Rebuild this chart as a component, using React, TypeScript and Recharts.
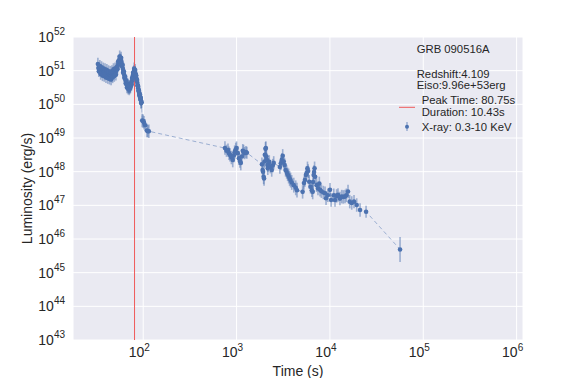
import React from "react";
import {
  ComposedChart,
  Scatter,
  ErrorBar,
  XAxis,
  YAxis,
  CartesianGrid,
  ReferenceLine,
} from "recharts";

// observation times (s)
const times = [
  32.7, 33.5, 34.3, 35.0, 35.8, 36.6, 37.4, 38.2, 39.0, 39.9, 40.8, 41.7, 42.6, 43.5, 44.4, 45.3,
  46.2, 47.1, 48.0, 49.0, 50.0, 51.0, 52.0, 53.0, 54.0, 55.0, 56.0, 57.0, 58.0, 59.0, 60.0, 61.0,
  62.0, 63.0, 64.0, 65.0, 66.0, 67.0, 68.0, 69.0, 70.0, 71.0, 72.0, 73.0, 74.0, 75.0, 76.0, 77.0,
  78.0, 79.0, 80.0, 81.0, 82.0, 83.0, 84.0, 85.0, 86.0, 87.0, 88.0, 89.0, 90.0, 91.0, 92.0, 93.0,
  94.0, 95.0, 96.0,
  97.5, 100, 102, 105, 109.6, 112, 115,
  751, 780, 810, 830, 849, 880, 910, 935, 954, 980, 1000, 1030, 1060, 1085, 1110, 1140, 1165, 1190,
  1220, 1260, 1290,
  1870, 1900, 1920, 1950, 1970, 1990, 2010, 2040, 2060, 2090, 2110, 2140, 2160, 2200, 2240, 2300,
  2380, 2440, 2500,
  2910, 2980, 3050, 3120, 3200, 3270, 3350, 3440, 3520, 3610, 3700, 3790, 3900, 4100, 4300, 4440,
  5100, 5270, 5400, 5530, 5630, 5750, 5850, 6000, 6200, 6400, 6540, 6590, 6700, 6760, 6850, 6950,
  7200, 7450, 7700, 7830, 8100, 8500, 8870, 9090, 9500, 10020, 10300, 11000, 11340, 11800, 12210,
  12800, 13370, 13900, 14510, 15000, 15630, 16300, 17130, 18120, 19360, 21030, 24390,
  56400,
];

// log10 of luminosity (erg/s)
const lumLog10 = [
  51.2, 50.98, 51.14, 50.9, 51.1, 50.86, 51.06, 50.84, 51.04, 50.8, 51.02, 50.78, 50.98, 50.76,
  50.96, 50.74, 50.98, 50.8, 51.04, 50.84, 51.06, 50.88, 51.1, 51.04, 51.28, 51.22, 51.42, 51.26,
  51.38, 51.14, 51.18, 50.94, 50.98, 50.78, 50.82, 50.62, 50.7, 50.5, 50.6, 50.46, 50.56, 50.44,
  50.54, 50.5, 50.62, 50.58, 50.78, 50.76, 50.94, 50.9, 51.06, 50.92, 51.02, 50.84, 50.86, 50.7,
  50.72, 50.56, 50.54, 50.4, 50.4, 50.26, 50.3, 50.16, 50.2, 50.04, 50.06,
  49.52, 49.5, 49.45, 49.38, 49.22, 49.2, 49.2,
  48.7, 48.62, 48.64, 48.55, 48.5, 48.42, 48.35, 48.48, 48.58, 48.66, 48.7, 48.55, 48.4, 48.32,
  48.26, 48.45, 48.62, 48.6, 48.55, 48.58, 48.56,
  48.22, 48.05, 48.0, 47.85, 47.8, 48.3, 48.5, 48.68, 48.7, 48.45, 48.35, 48.2, 48.1, 48.2, 48.29,
  48.15, 48.05, 48.18, 48.26,
  48.14, 48.25, 48.35, 48.47, 48.3, 48.2, 48.05, 47.99, 47.92, 47.87, 47.8, 47.75, 47.68, 47.6,
  47.52, 47.45,
  47.4, 47.66, 47.75, 47.9, 47.96, 48.1, 48.02, 47.7, 47.55, 47.45, 47.4, 47.69, 47.9, 47.99, 48.1,
  47.85, 47.6, 47.5, 47.65, 47.46, 47.42, 47.38, 47.36, 47.21, 47.3, 47.46, 47.16, 47.3, 47.16,
  47.28, 47.31, 47.2, 47.26, 47.25, 47.26, 47.3, 47.41, 47.11, 47.07, 47.11, 47.01, 46.86, 46.81,
  45.69,
];

// half length of each error bar, in dex
const errDex = [
  0.18, 0.17, 0.18, 0.17, 0.18, 0.17, 0.18, 0.17, 0.18, 0.17, 0.18, 0.17, 0.18, 0.17, 0.18, 0.17,
  0.18, 0.17, 0.18, 0.17, 0.18, 0.17, 0.18, 0.17, 0.18, 0.17, 0.18, 0.17, 0.18, 0.17, 0.18, 0.17,
  0.18, 0.17, 0.18, 0.17, 0.18, 0.17, 0.18, 0.17, 0.18, 0.17, 0.18, 0.17, 0.18, 0.17, 0.18, 0.17,
  0.18, 0.17, 0.18, 0.17, 0.18, 0.17, 0.18, 0.17, 0.18, 0.17, 0.18, 0.17, 0.18, 0.17, 0.18, 0.17,
  0.18, 0.17, 0.18,
  0.2, 0.2, 0.2, 0.18, 0.2, 0.18, 0.2,
  0.2, 0.18, 0.2, 0.2, 0.2, 0.2, 0.22, 0.2, 0.2, 0.2, 0.2, 0.2, 0.2, 0.2, 0.22, 0.2, 0.2, 0.2,
  0.18, 0.18, 0.18,
  0.2, 0.2, 0.2, 0.22, 0.22, 0.2, 0.2, 0.2, 0.2, 0.2, 0.2, 0.2, 0.2, 0.2, 0.2, 0.2, 0.2, 0.2, 0.2,
  0.2, 0.2, 0.2, 0.2, 0.2, 0.2, 0.2, 0.2, 0.2, 0.22, 0.22, 0.22, 0.22, 0.22, 0.22, 0.22,
  0.2, 0.2, 0.2, 0.2, 0.2, 0.2, 0.2, 0.2, 0.2, 0.2, 0.22, 0.2, 0.2, 0.2, 0.2, 0.2, 0.2, 0.2, 0.2,
  0.2, 0.2, 0.2, 0.2, 0.2, 0.2, 0.2, 0.2, 0.2, 0.2, 0.2, 0.2, 0.2, 0.2, 0.2, 0.2, 0.2, 0.2, 0.2,
  0.2, 0.2, 0.2, 0.2, 0.18,
  0.37,
];

// extra prompt-phase bins lying between the ones above
const burstTimes = [
  33.1, 33.9, 34.65, 35.4, 36.2, 37.0, 37.8, 38.6, 39.45, 40.35, 41.25, 42.15, 43.05, 43.95, 44.85,
  45.75, 46.65, 47.55, 48.5, 49.5, 50.5, 51.5, 52.5, 53.5, 54.5, 55.5, 56.5, 57.5, 58.5, 59.5, 60.5,
  61.5, 62.5, 63.5, 64.5, 65.5, 66.5, 67.5, 68.5, 69.5, 70.5, 71.5, 72.5, 73.5, 74.5, 75.5, 76.5,
  77.5, 78.5, 79.5, 80.5, 81.5, 82.5, 83.5, 84.5, 85.5, 86.5, 87.5, 88.5, 89.5, 90.5, 91.5, 92.5,
  93.5, 94.5, 95.5,
];
const burstLumLog10 = [
  51.08, 51.04, 51.0, 51.02, 50.96, 50.98, 50.94, 50.96, 50.92, 50.9, 50.92, 50.86, 50.88, 50.84,
  50.86, 50.84, 50.88, 50.92, 50.94, 50.96, 50.98, 51.0, 51.08, 51.16, 51.26, 51.32, 51.34, 51.32,
  51.26, 51.16, 51.06, 50.96, 50.88, 50.8, 50.72, 50.66, 50.6, 50.56, 50.52, 50.5, 50.5, 50.48,
  50.52, 50.56, 50.6, 50.68, 50.78, 50.86, 50.92, 50.98, 50.98, 50.96, 50.92, 50.86, 50.78, 50.72,
  50.64, 50.56, 50.48, 50.4, 50.34, 50.28, 50.22, 50.18, 50.12, 50.06,
];
const burstErrDex = 0.17;

const xTicks = [100, 1000, 10000, 100000, 1000000];
const yTicks = [1e43, 1e44, 1e45, 1e46, 1e47, 1e48, 1e49, 1e50, 1e51, 1e52];

const peakTime = 80.75;
const infoLines = ["Redshift:4.109", "Eiso:9.96e+53erg"];

const blue = "#4C72B0";
const textColor = "#262626";
const font = "Liberation Sans, Arial, sans-serif";

const toPoint = (t: number, lg: number, d: number) => {
  const L = Math.pow(10, lg);
  return { t, L, err: [L - L * Math.pow(10, -d), L * Math.pow(10, d) - L] };
};

const data = times.map((t, i) => toPoint(t, lumLog10[i], errDex[i]));
const burstData = burstTimes.map((t, i) => toPoint(t, burstLumLog10[i], burstErrDex));

const PowTick = ({ x, y, payload, axis }: any) => {
  const exp = Math.round(Math.log10(payload.value));
  if (axis === "y") {
    return (
      <text x={x} y={y + 5} textAnchor="end" fill={textColor} fontSize={14} fontFamily={font}>
        10<tspan dy={-7} fontSize={10}>{exp}</tspan>
      </text>
    );
  }
  return (
    <text x={x - 4} y={y + 17} textAnchor="middle" fill={textColor} fontSize={14} fontFamily={font}>
      10<tspan dy={-6} fontSize={10}>{exp}</tspan>
    </text>
  );
};

const Dot = ({ cx, cy }: any) => <circle cx={cx} cy={cy} r={2.3} fill={blue} />;

export default function App() {
  return (
    <div style={{ position: "absolute", left: 0, top: 0, background: "#fff" }}>
      <ComposedChart
        width={581}
        height={378}
        margin={{ top: 37, right: 58, bottom: 0, left: 13 }}
      >
        <CartesianGrid fill="#EAEAF2" stroke="#ffffff" strokeWidth={1} />
        <XAxis
          dataKey="t"
          type="number"
          scale="log"
          domain={[17.7, 1170000]}
          ticks={xTicks}
          allowDataOverflow
          axisLine={false}
          tickLine={false}
          tickSize={0}
          tickMargin={0}
          height={38}
          tick={(p: any) => <PowTick {...p} axis="x" />}
        />
        <YAxis
          dataKey="L"
          type="number"
          scale="log"
          domain={[1e43, 1e52]}
          ticks={yTicks}
          allowDataOverflow
          axisLine={false}
          tickLine={false}
          tickSize={0}
          tickMargin={8}
          width={60}
          tick={(p: any) => <PowTick {...p} axis="y" />}
        />
        <Scatter
          data={burstData}
          dataKey="L"
          fill={blue}
          shape={<Dot />}
          isAnimationActive={false}
        >
          <ErrorBar dataKey="err" direction="y" width={0} stroke={blue} strokeOpacity={0.5} strokeWidth={1.6} />
        </Scatter>
        <Scatter
          data={data}
          dataKey="L"
          fill={blue}
          shape={<Dot />}
          line={{ stroke: blue, strokeOpacity: 0.5, strokeWidth: 1, strokeDasharray: "4 3" }}
          lineType="joint"
          isAnimationActive={false}
        >
          <ErrorBar dataKey="err" direction="y" width={0} stroke={blue} strokeOpacity={0.5} strokeWidth={1.6} />
        </Scatter>
        <ReferenceLine x={peakTime} stroke="#ef5a5a" strokeWidth={1} />
        <g fontFamily={font} fill={textColor} fontSize={11.3}>
          <text x={416.7} y={53}>GRB 090516A</text>
          {infoLines.map((s, i) => (
            <text key={s} x={416.7} y={77.5 + i * 11}>
              {s}
            </text>
          ))}
          <text x={421.7} y={104}>Peak Time: 80.75s</text>
          <text x={421.7} y={115.5}>Duration: 10.43s</text>
          <line x1={399} x2={415} y1={107.3} y2={107.3} stroke="#ef5a5a" strokeWidth={1} />
          <text x={421.7} y={130.5}>X-ray: 0.3-10 KeV</text>
          <line x1={407} x2={407} y1={122} y2={131} stroke={blue} strokeOpacity={0.5} strokeWidth={1.5} />
          <circle cx={407} cy={126.7} r={2} fill={blue} />
          <text
            x={27}
            y={188.5}
            transform="rotate(-90 27 188.5)"
            textAnchor="middle"
            dominantBaseline="central"
            fontSize={14}
          >
            Luminosity (erg/s)
          </text>
          <text x={298} y={376} textAnchor="middle" fontSize={14}>
            Time (s)
          </text>
        </g>
      </ComposedChart>
    </div>
  );
}
